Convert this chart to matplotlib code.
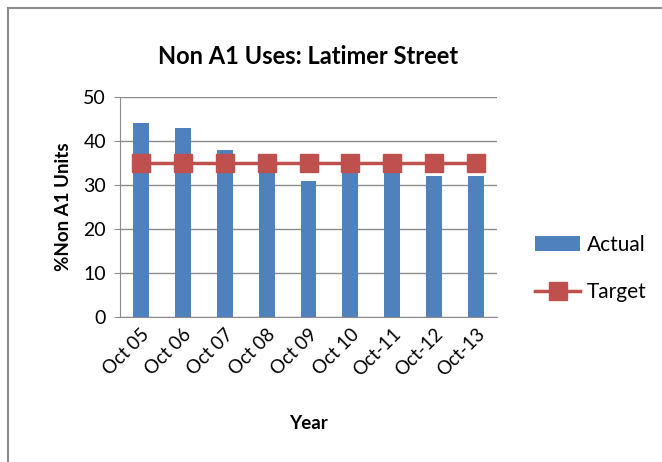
import numpy as np
import matplotlib.pyplot as plt
from matplotlib.patches import Rectangle

years = ['Oct 05', 'Oct 06', 'Oct 07', 'Oct 08', 'Oct 09', 'Oct 10', 'Oct-11', 'Oct-12', 'Oct-13']
actual = [44, 43, 38, 35, 31, 35, 35, 32, 32]
target = [35, 35, 35, 35, 35, 35, 35, 35, 35]

plt.rcParams['font.family'] = ['Lato', 'DejaVu Sans']

fig = plt.figure(figsize=(6.62, 4.62), dpi=100)
fig.patches.append(Rectangle((8 / 662, -0.1), 1.2, (462 - 8) / 462 + 0.1, transform=fig.transFigure,
                             fill=False, edgecolor='#8c8c8c', linewidth=1.5))
ax = fig.add_axes([120 / 662, 145 / 462, 377 / 662, 220 / 462])

x = np.arange(len(years))
bars = ax.bar(x, actual, width=0.38, color='#4F81BD', label='Actual', zorder=2)
line, = ax.plot(x, target, color='#C0504D', linewidth=2.5, marker='s', markersize=13,
                label='Target', zorder=3)

ax.set_xlim(-0.5, len(years) - 0.5)
ax.set_ylim(0, 50)
ax.set_yticks([0, 10, 20, 30, 40, 50])
ax.set_xticks(x)
ax.set_xticklabels(years, rotation=45, ha='right', rotation_mode='anchor', fontsize=13.5)
ax.tick_params(axis='y', labelsize=14, length=4, color='#8c8c8c', pad=6)
ax.tick_params(axis='x', length=0, pad=6)
ax.grid(axis='y', color='#8c8c8c', linewidth=1, zorder=0)
ax.set_axisbelow(True)
for s in ['top', 'right']:
    ax.spines[s].set_visible(False)
ax.spines['left'].set_color('#8c8c8c')
ax.spines['bottom'].set_color('#8c8c8c')

ax.set_title('Non A1 Uses: Latimer Street', fontsize=17, fontweight='bold', pad=24)
ax.set_ylabel('%Non A1 Units', fontsize=13.5, fontweight='bold', labelpad=8)
ax.set_xlabel('Year', fontsize=13.5, fontweight='bold', labelpad=26)

ax.legend([bars, line], ['Actual', 'Target'], loc='center left', bbox_to_anchor=(1.05, 0.22),
          frameon=False, fontsize=15, labelspacing=1.3, handlelength=2.2, handletextpad=0.3)

fig.savefig('out.png', dpi=100)
